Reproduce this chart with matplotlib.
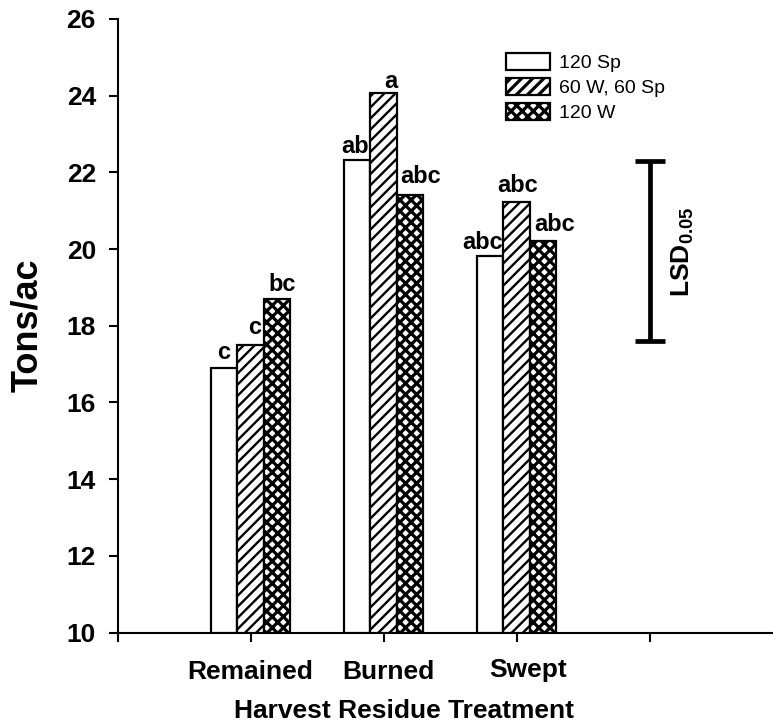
import matplotlib
matplotlib.use('Agg')
import matplotlib.pyplot as plt
import numpy as np
from matplotlib.transforms import blended_transform_factory

plt.rcParams['font.family'] = ['Liberation Sans', 'DejaVu Sans']
plt.rcParams['mathtext.fontset'] = 'custom'
plt.rcParams['mathtext.rm'] = 'Liberation Sans'
plt.rcParams['mathtext.bf'] = 'Liberation Sans:bold'

# ---------------- data ----------------
categories = ['Remained', 'Burned', 'Swept']
series_names = ['120 Sp', '60 W, 60 Sp', '120 W']
sp120 = [16.89, 22.32, 19.81]
w60_sp60 = [17.51, 24.08, 21.22]
w120 = [18.70, 21.42, 20.22]
letters_sp120 = ['c', 'ab', 'abc']
letters_w60_sp60 = ['c', 'a', 'abc']
letters_w120 = ['bc', 'abc', 'abc']
lsd_low = 17.61
lsd_high = 22.30
lsd_label = r'$\mathbf{LSD}_{\mathbf{0.05}}$'
y_ticks = [10, 12, 14, 16, 18, 20, 22, 24, 26]
x_title = 'Harvest Residue Treatment'
y_title = 'Tons/ac'

# ---------------- layout ----------------
W, H = 773, 724
fig = plt.figure(figsize=(W / 100, H / 100), dpi=100)
ax_left, ax_bottom, ax_top = 117.5, 632.5, 19
ax = fig.add_axes([ax_left / W, 1 - ax_bottom / H, 1 - ax_left / W, (ax_bottom - ax_top) / H])

x = np.arange(1, len(categories) + 1)
bw = 0.2
series = [sp120, w60_sp60, w120]
letters = [letters_sp120, letters_w60_sp60, letters_w120]
hatches = [None, '///', 'xxx']
hatch_lw = [1.0, 1.7, 2.3]
offs = [-bw, 0.0, bw]
# label nudges (pixels): dx, dy gap
lab_dx = [[0, -2, -7], [4, 7, 1], [5, 11, 12]]
lab_dy = [[9.7, 7.6, 7.7], [10.7, 4.5, 10], [8, 12, 10]]

for i, vals in enumerate(series):
    plt.rcParams['hatch.linewidth'] = hatch_lw[i]
    bars = ax.bar(x + offs[i], np.array(vals) - 10, bottom=10, width=bw,
                  facecolor='white', edgecolor='black', linewidth=1.6,
                  hatch=hatches[i], label=series_names[i], zorder=3)
    for b in bars:
        try:
            b.set_hatch_linewidth(hatch_lw[i])
        except AttributeError:
            pass
    for j, v in enumerate(vals):
        ax.annotate(letters[i][j], xy=(x[j] + offs[i], v),
                    xytext=(lab_dx[i][j] * 0.72, lab_dy[i][j] * 0.72),
                    textcoords='offset points', ha='center', va='baseline',
                    fontsize=17, fontweight='bold', zorder=4)

# LSD bar
lsd_x = 4
ax.errorbar([lsd_x], [(lsd_low + lsd_high) / 2], yerr=[(lsd_high - lsd_low) / 2],
            fmt='none', ecolor='black', elinewidth=3.4, capsize=11, capthick=3.4,
            zorder=3)
ax.text(lsd_x + 33 / 133, 19.92, lsd_label, rotation=90, ha='center', va='center',
        fontsize=19)

ax.set_xlim(0, (W - ax_left) / 133)
ax.set_ylim(10, 26)
ax.set_yticks(y_ticks)
ax.set_xticks([0, 1, 2, 3, 4])
ax.set_xticklabels([])
for s in ['top', 'right']:
    ax.spines[s].set_visible(False)
for s in ['left', 'bottom']:
    ax.spines[s].set_linewidth(1.5)
ax.tick_params(axis='both', direction='out', length=6.5, width=1.5, labelsize=19, pad=9)
for lab in ax.get_yticklabels():
    lab.set_fontweight('bold')

# category labels
tr = blended_transform_factory(ax.transData, fig.transFigure)
cat_x = [1.0, 2.034, 3.087]
cat_base = [679.3, 679.3, 676.5]
for c, cx, cb in zip(categories, cat_x, cat_base):
    ax.text(cx, 1 - cb / H, c, transform=tr, ha='center', va='baseline',
            fontsize=19, fontweight='bold')

fig.text(404 / W, 1 - 718 / H, x_title, ha='center', va='baseline',
         fontsize=19, fontweight='bold')
fig.text(28 / W, 1 - 325 / H, y_title, rotation=90, ha='center', va='center',
         fontsize=26, fontweight='bold')

leg = ax.legend(loc='upper left', bbox_to_anchor=(506 / W, 1 - 53 / H),
                bbox_transform=fig.transFigure, frameon=False, fontsize=14,
                handlelength=2.27, handleheight=0.95, labelspacing=0.31,
                handletextpad=0.45, borderpad=0, borderaxespad=0)

fig.savefig('out.png', dpi=100)
